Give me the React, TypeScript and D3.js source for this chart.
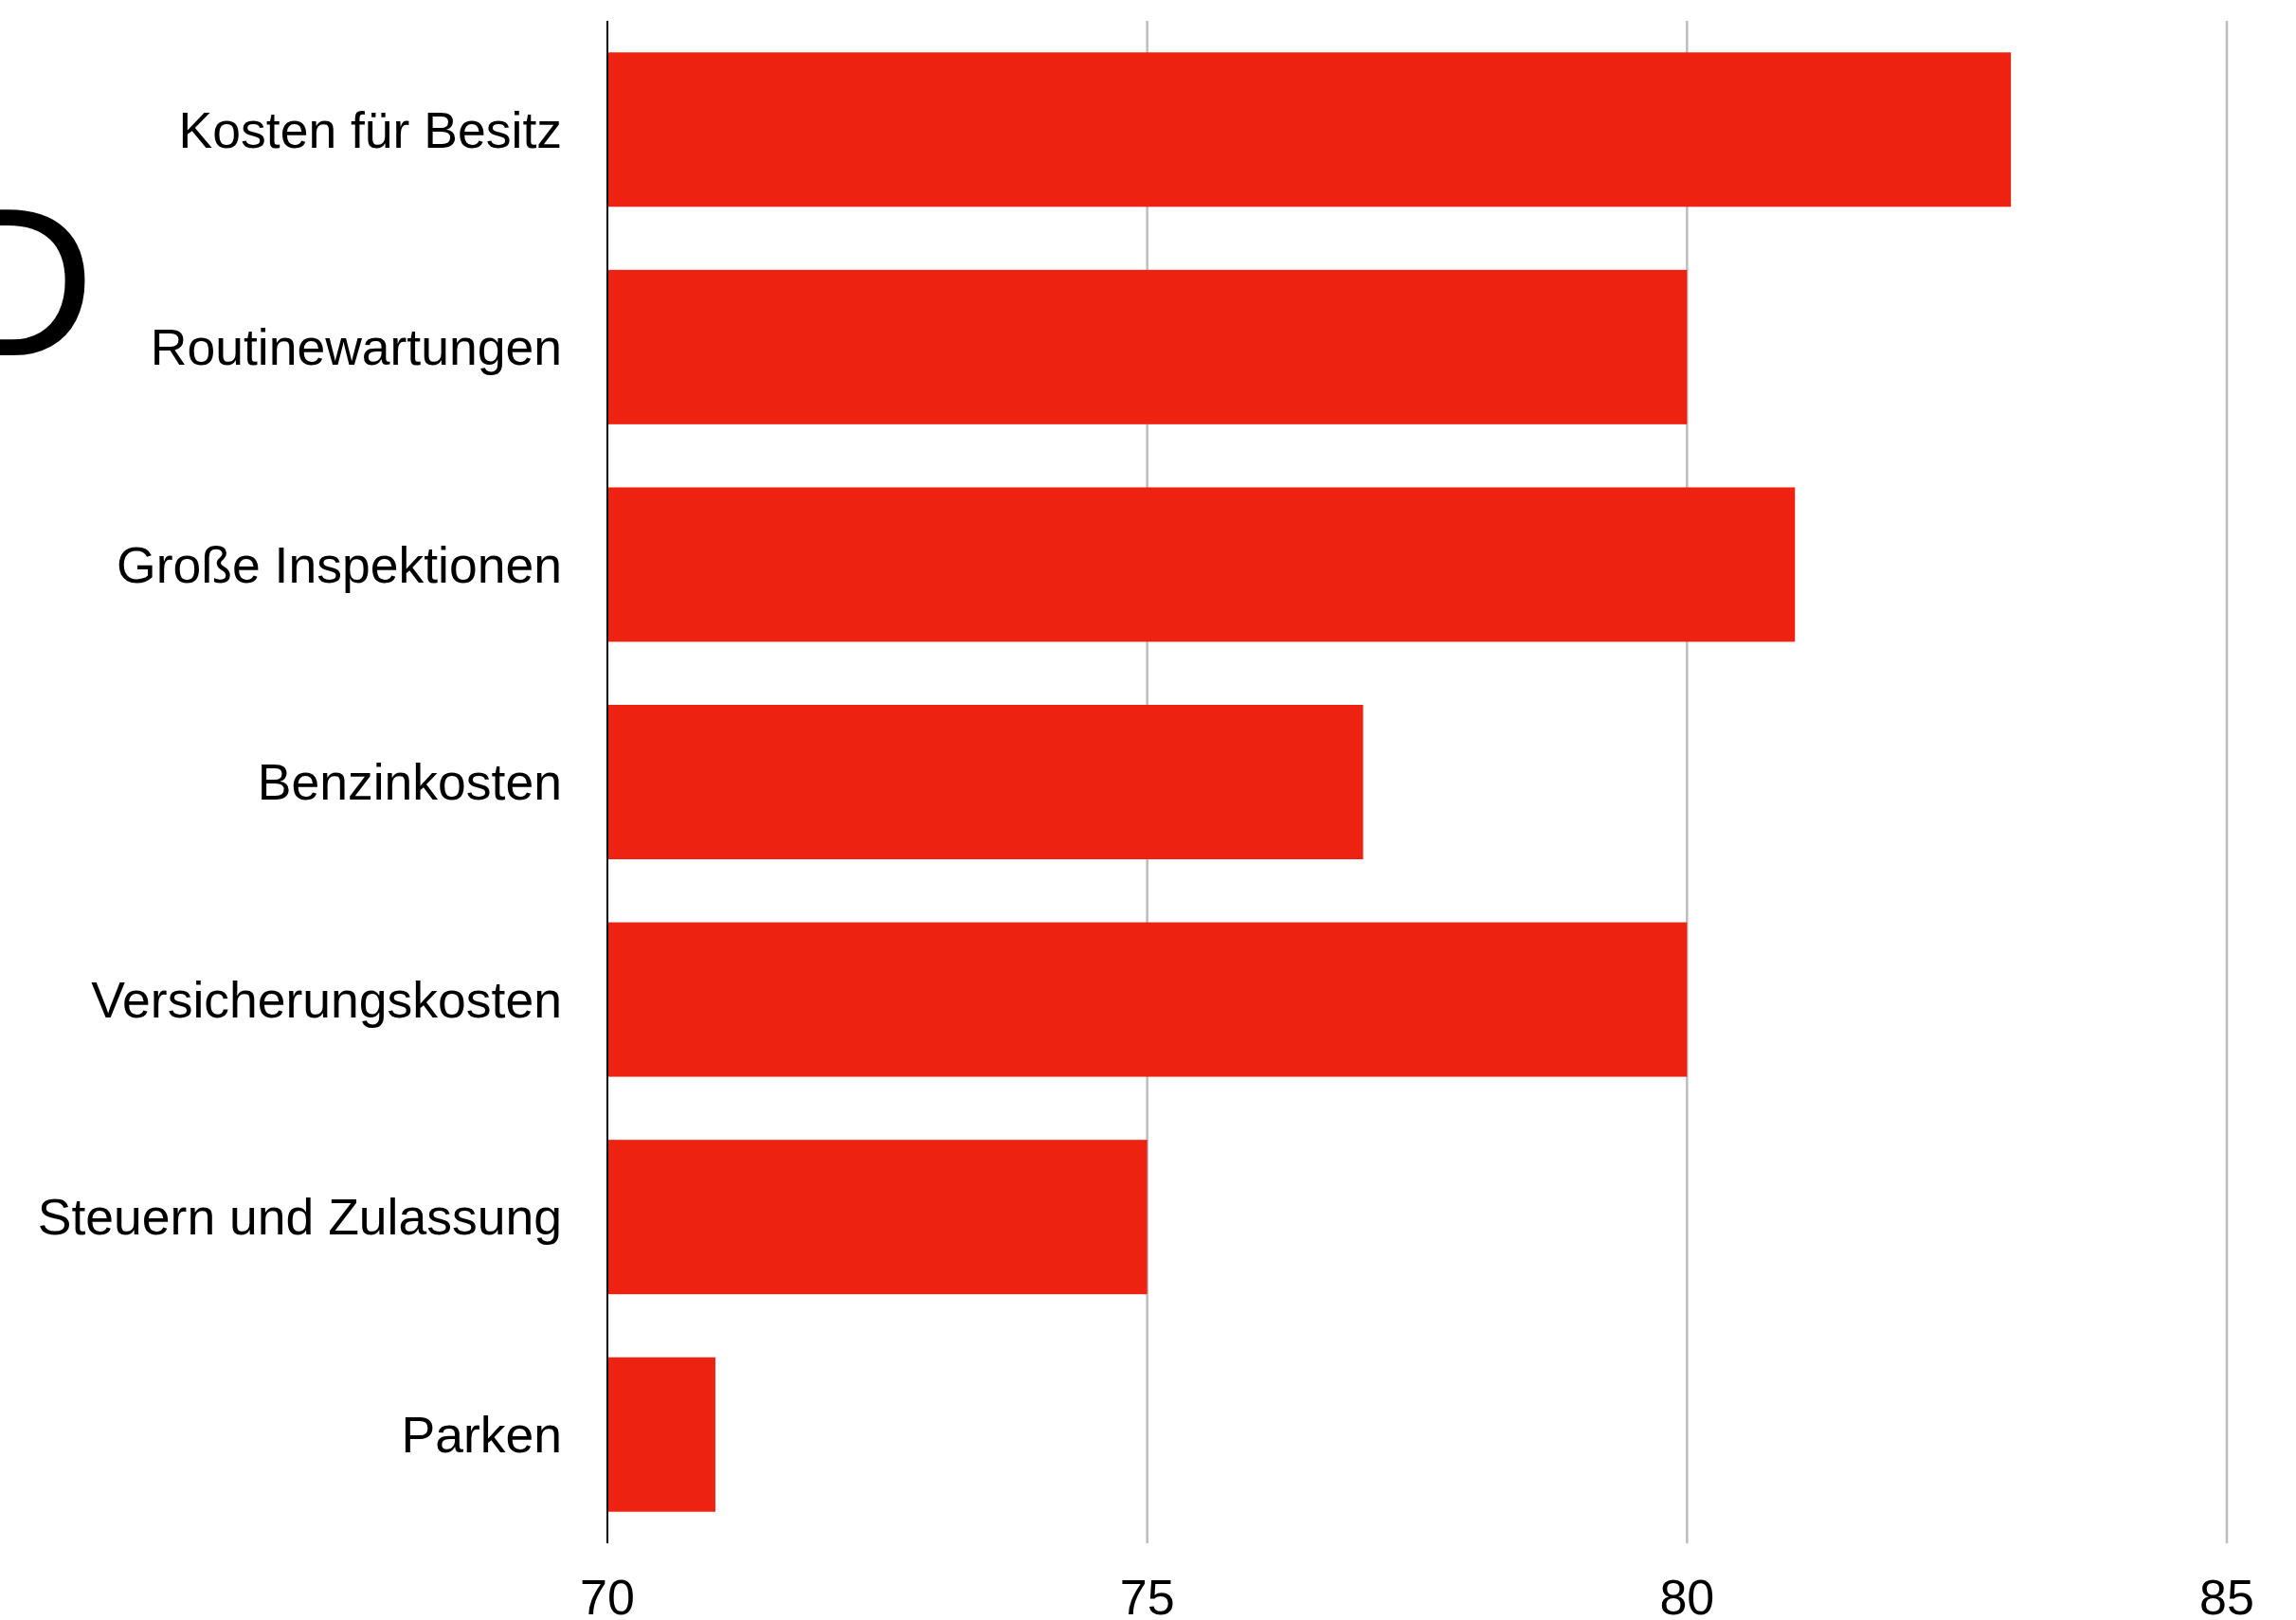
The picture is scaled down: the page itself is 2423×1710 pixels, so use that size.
import React from "react";
import * as d3 from "d3";

const categories = [
  "Kosten für Besitz",
  "Routinewartungen",
  "Große Inspektionen",
  "Benzinkosten",
  "Versicherungskosten",
  "Steuern und Zulassung",
  "Parken",
];
const values = [83, 80, 81, 77, 80, 75, 71];
const xTicks = [70, 75, 80, 85];

const W = 2423;
const H = 1710;
const FONT = "'Liberation Sans', Arial, Helvetica, sans-serif";

export default function App() {
  const x = d3.scaleLinear().domain([70, 85]).range([641, 2350]);
  const y = d3
    .scaleBand<string>()
    .domain(categories)
    .range([22, 1629])
    .paddingInner(0.29)
    .paddingOuter(0.145);

  return (
    <svg
      width={W}
      height={H}
      style={{ position: "absolute", left: 0, top: 0, background: "#fff" }}
    >
      <text
        x={100}
        y={375}
        fontFamily={FONT}
        fontSize={222}
        textAnchor="end"
        fill="#000"
      >
        D
      </text>
      {xTicks.slice(1).map((t) => (
        <line
          key={"g" + t}
          x1={x(t)}
          x2={x(t)}
          y1={22}
          y2={1629}
          stroke="#bdbdbd"
          strokeWidth={2.5}
        />
      ))}
      {categories.map((c, i) => (
        <rect
          key={c}
          x={x(70)}
          y={y(c)}
          width={x(values[i]) - x(70)}
          height={y.bandwidth()}
          fill="#ee2210"
        />
      ))}
      <line x1={x(70)} x2={x(70)} y1={22} y2={1629} stroke="#000" strokeWidth={2} />
      {categories.map((c) => (
        <text
          key={"l" + c}
          x={593}
          y={(y(c) ?? 0) + y.bandwidth() / 2}
          dy="0.35em"
          textAnchor="end"
          fontFamily={FONT}
          fontSize={53.5}
          fill="#000"
        >
          {c}
        </text>
      ))}
      {xTicks.map((t) => (
        <text
          key={"t" + t}
          x={x(t)}
          y={1704}
          textAnchor="middle"
          fontFamily={FONT}
          fontSize={52}
          fill="#000"
        >
          {t}
        </text>
      ))}
    </svg>
  );
}
